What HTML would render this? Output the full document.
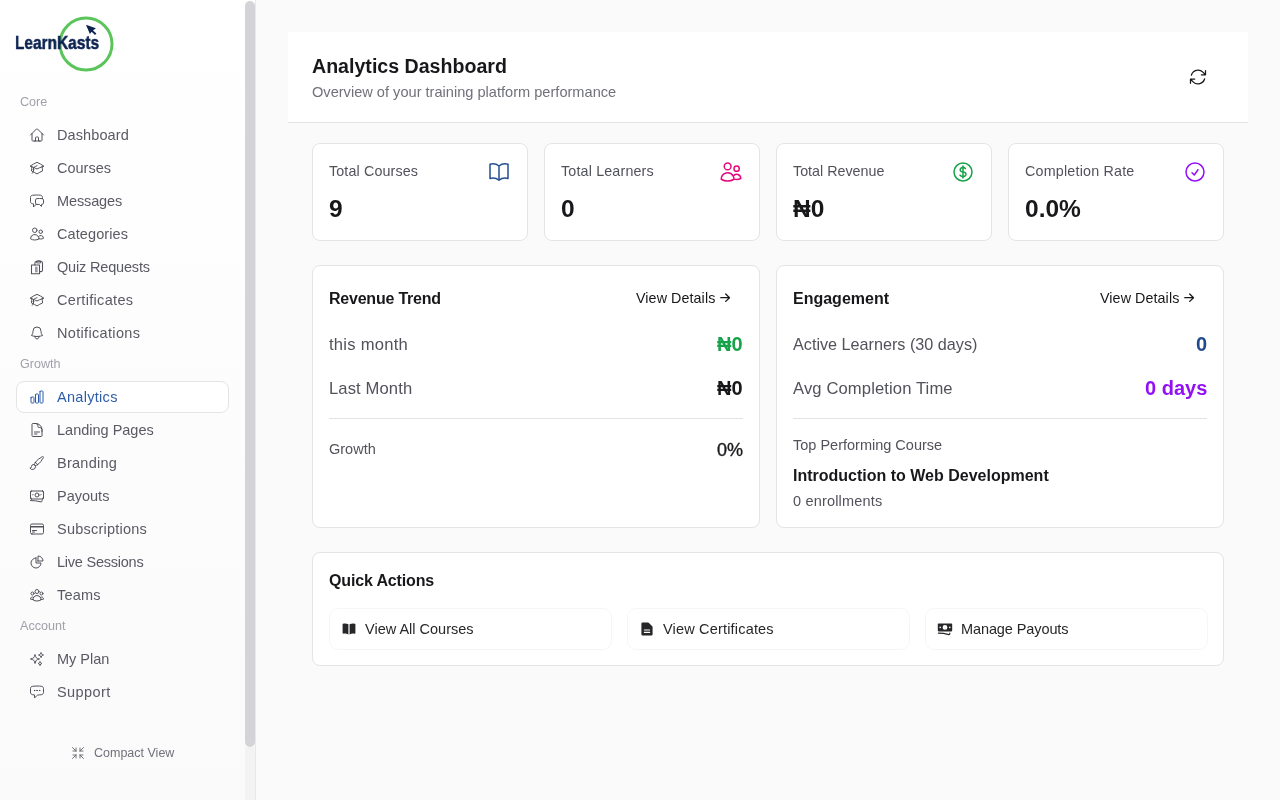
<!DOCTYPE html>
<html><head><meta charset="utf-8">
<style>
*{box-sizing:border-box;margin:0;padding:0}
html,body{width:1280px;height:800px;overflow:hidden;background:#fafafa;font-family:"Liberation Sans",sans-serif;color:#18181b}
.a,.it span,.lbl{will-change:transform}
.a{position:absolute;white-space:nowrap}
svg{display:block}
#side{position:absolute;left:0;top:0;width:256px;height:800px;background:linear-gradient(#fff,#fafafb);border-right:1px solid #e8e8ea}
#thumb{position:absolute;left:245px;top:1px;width:10px;height:746px;border-radius:5px;background:#d4d4d8}
#track{position:absolute;left:245px;top:0;width:10px;height:800px;background:#f3f3f4}
.lbl{position:absolute;left:20px;font-size:12.6px;line-height:16px;color:#a1a1aa}
.it{position:absolute;left:16px;width:213px;height:32px}
.it svg{position:absolute;left:13px;top:8.6px;width:16px;height:16px;fill:none;stroke:#52525b;stroke-width:1.5;stroke-linecap:round;stroke-linejoin:round}
.it span{position:absolute;left:41px;top:6.5px;font-size:14.5px;line-height:20px;color:#5a5a64;white-space:nowrap}
.it.act{background:#fff;border:1px solid #e4e4e7;border-radius:8px}
.it.act svg{left:12px;top:7px;stroke:#2d5da8}
.it.act span{left:40px;top:4.5px;color:#2d5da8}
.card{position:absolute;background:#fff;border:1px solid #e4e4e7;border-radius:8px}
.ic{fill:none;stroke-width:1.5;stroke-linecap:round;stroke-linejoin:round}
</style></head><body>
<div id="side">
  <!-- logo -->
  <svg class="a" style="left:0;top:0" width="130" height="80" viewBox="0 0 130 80">
    <circle cx="86" cy="44" r="26" fill="none" stroke="#5bc55b" stroke-width="3"/>
    <path d="M86 24.8 L95.9 28.3 L93 30.5 L96.4 33.5 L95 34.9 L91.7 31.8 L89.9 34.1 Z" fill="#0c2350"/>
  </svg>
  <div class="a" style="left:14.6px;top:32px;font-size:18.6px;line-height:22px;font-weight:bold;color:#0c2350;-webkit-text-stroke:0.5px #0c2350;transform:scaleX(0.83);transform-origin:0 0">LearnKasts</div>

  <div class="lbl" style="top:94px">Core</div>
  <div class="it" style="top:118px"><svg viewBox="0 0 24 24"><path d="m2.25 12 8.954-8.955c.44-.439 1.152-.439 1.591 0L21.750 12M4.5 9.75v10.125c0 .621.504 1.125 1.125 1.125H9.75v-4.875c0-.621.504-1.125 1.125-1.125h2.25c.621 0 1.125.504 1.125 1.125V21h4.125c.621 0 1.125-.504 1.125-1.125V9.75M8.25 21h8.25"/></svg><span style="letter-spacing:0.1px">Dashboard</span></div>
  <div class="it" style="top:151px"><svg viewBox="0 0 24 24"><path d="M4.26 10.147a60.438 60.438 0 0 0-.491 6.347A48.62 48.62 0 0 1 12 20.904a48.62 48.62 0 0 1 8.232-4.41 60.46 60.46 0 0 0-.491-6.347m-15.482 0a50.636 50.636 0 0 0-2.658-.813A59.906 59.906 0 0 1 12 3.493a59.903 59.903 0 0 1 10.399 5.84c-.896.248-1.783.52-2.658.814m-15.482 0A50.717 50.717 0 0 1 12 13.489a50.702 50.702 0 0 1 7.740-3.342M6.75 15a.75.75 0 1 0 0-1.5.75.75 0 0 0 0 1.5Zm0 0v-3.675A55.378 55.378 0 0 1 12 8.443m-7.007 11.55A5.981 5.981 0 0 0 6.75 15.75v-1.5"/></svg><span>Courses</span></div>
  <div class="it" style="top:184px"><svg viewBox="0 0 24 24"><path d="M20.25 8.511c.884.284 1.5 1.128 1.5 2.097v4.286c0 1.136-.847 2.1-1.98 2.193-.34.027-.68.052-1.02.072v3.091l-3-3c-1.354 0-2.694-.055-4.020-.163a2.115 2.115 0 0 1-.825-.242m9.345-8.334a2.126 2.126 0 0 0-.476-.095 48.64 48.64 0 0 0-8.048 0c-1.131.094-1.976 1.057-1.976 2.192v4.286c0 .837.46 1.580 1.155 1.951m9.345-8.334V6.637c0-1.621-1.152-3.026-2.760-3.235A48.455 48.455 0 0 0 11.25 3c-2.115 0-4.198.137-6.240.402-1.608.209-2.760 1.614-2.760 3.235v6.226c0 1.621 1.152 3.026 2.760 3.235.577.075 1.157.14 1.740.194V21l4.155-4.155"/></svg><span style="letter-spacing:-0.12px">Messages</span></div>
  <div class="it" style="top:217px"><svg viewBox="0 0 24 24"><path d="M15 19.128a9.38 9.38 0 0 0 2.625.372 9.337 9.337 0 0 0 4.121-.952 4.125 4.125 0 0 0-7.533-2.493M15 19.128v-.003c0-1.113-.285-2.16-.786-3.07M15 19.128v.106A12.318 12.318 0 0 1 8.624 21c-2.331 0-4.512-.645-6.374-1.766l-.001-.109a6.375 6.375 0 0 1 11.964-3.070M12 6.375a3.375 3.375 0 1 1-6.75 0 3.375 3.375 0 0 1 6.75 0Zm8.25 2.25a2.625 2.625 0 1 1-5.25 0 2.625 2.625 0 0 1 5.25 0Z"/></svg><span style="letter-spacing:0.1px">Categories</span></div>
  <div class="it" style="top:250px"><svg viewBox="0 0 16 16" style="stroke-width:1.05"><path d="M2.5 6H10.5V14.7H2.5Z"/><path d="M5.9 6V4.1Q5.9 2.3 7.6 2.2H11.8Q13.5 2.3 13.5 4V11.3Q13.5 12.6 12.2 12.6H10.9"/><ellipse cx="9.7" cy="2.9" rx="2.3" ry="1.1"/><rect x="6" y="7.7" width="2.6" height="5.6" fill="#9a9aa2" stroke="none"/></svg><span style="letter-spacing:-0.17px">Quiz Requests</span></div>
  <div class="it" style="top:283px"><svg viewBox="0 0 24 24"><path d="M4.26 10.147a60.438 60.438 0 0 0-.491 6.347A48.62 48.62 0 0 1 12 20.904a48.62 48.62 0 0 1 8.232-4.41 60.46 60.46 0 0 0-.491-6.347m-15.482 0a50.636 50.636 0 0 0-2.658-.813A59.906 59.906 0 0 1 12 3.493a59.903 59.903 0 0 1 10.399 5.84c-.896.248-1.783.52-2.658.814m-15.482 0A50.717 50.717 0 0 1 12 13.489a50.702 50.702 0 0 1 7.740-3.342M6.75 15a.75.75 0 1 0 0-1.5.75.75 0 0 0 0 1.5Zm0 0v-3.675A55.378 55.378 0 0 1 12 8.443m-7.007 11.55A5.981 5.981 0 0 0 6.75 15.75v-1.5"/></svg><span style="letter-spacing:0.32px">Certificates</span></div>
  <div class="it" style="top:316px"><svg viewBox="0 0 24 24"><path d="M14.857 17.082a23.848 23.848 0 0 0 5.454-1.310A8.967 8.967 0 0 1 18 9.75V9A6 6 0 0 0 6 9v.75a8.967 8.967 0 0 1-2.312 6.022c1.733.64 3.56 1.085 5.455 1.310m5.714 0a24.255 24.255 0 0 1-5.714 0m5.714 0a3 3 0 1 1-5.714 0"/></svg><span style="letter-spacing:0.33px">Notifications</span></div>

  <div class="lbl" style="top:356px">Growth</div>
  <div class="it act" style="top:381px"><svg viewBox="0 0 24 24"><path d="M3 13.125C3 12.504 3.504 12 4.125 12h2.25c.621 0 1.125.504 1.125 1.125v6.75C7.5 20.496 6.996 21 6.375 21h-2.25A1.125 1.125 0 0 1 3 19.875v-6.75ZM9.75 8.625c0-.621.504-1.125 1.125-1.125h2.25c.621 0 1.125.504 1.125 1.125v11.25c0 .621-.504 1.125-1.125 1.125h-2.25a1.125 1.125 0 0 1-1.125-1.125V8.625ZM16.5 4.125c0-.621.504-1.125 1.125-1.125h2.25C20.496 3 21 3.504 21 4.125v15.75c0 .621-.504 1.125-1.125 1.125h-2.25a1.125 1.125 0 0 1-1.125-1.125V4.125Z"/></svg><span style="letter-spacing:0.3px">Analytics</span></div>
  <div class="it" style="top:413px"><svg viewBox="0 0 24 24"><path d="M19.5 14.25v-2.625a3.375 3.375 0 0 0-3.375-3.375h-1.5A1.125 1.125 0 0 1 13.5 7.125v-1.5a3.375 3.375 0 0 0-3.375-3.375H8.25m0 12.75h7.5m-7.5 3H12M10.5 2.25H5.625c-.621 0-1.125.504-1.125 1.125v17.25c0 .621.504 1.125 1.125 1.125h12.75c.621 0 1.125-.504 1.125-1.125V11.25a9 9 0 0 0-9-9Z"/></svg><span>Landing Pages</span></div>
  <div class="it" style="top:446px"><svg viewBox="0 0 24 24"><path d="M9.53 16.122a3 3 0 0 0-5.78 1.128 2.25 2.25 0 0 1-2.4 2.245 4.5 4.5 0 0 0 8.4-2.245c0-.399-.078-.78-.22-1.128Zm0 0a15.998 15.998 0 0 0 3.388-1.62m-5.043-.025a15.994 15.994 0 0 1 1.622-3.395m3.420 3.420a15.995 15.995 0 0 0 4.764-4.648l3.876-5.814a1.151 1.151 0 0 0-1.597-1.597L14.146 6.32a15.996 15.996 0 0 0-4.649 4.763m3.420 3.420a6.776 6.776 0 0 0-3.420-3.420"/></svg><span style="letter-spacing:0.25px">Branding</span></div>
  <div class="it" style="top:479px"><svg viewBox="0 0 24 24"><path d="M2.25 18.75a60.07 60.07 0 0 1 15.797 2.101c.727.198 1.453-.342 1.453-1.096V18.75M3.75 4.5v.75A.75.75 0 0 1 3 6h-.75m0 0v-.375c0-.621.504-1.125 1.125-1.125H20.25M2.25 6v9m18-10.5v.75c0 .414.336.75.75.75h.75m-1.5-1.5h.375c.621 0 1.125.504 1.125 1.125v9.75c0 .621-.504 1.125-1.125 1.125h-.375m1.5-1.5H21a.75.75 0 0 0-.75.75v.75m0 0H3.750m0 0h-.375a1.125 1.125 0 0 1-1.125-1.125V15m1.5 1.5v-.75A.75.75 0 0 0 3 15h-.75M15 10.5a3 3 0 1 1-6 0 3 3 0 0 1 6 0Zm3 0h.008v.008H18V10.5Zm-12 0h.008v.008H6V10.5Z"/></svg><span>Payouts</span></div>
  <div class="it" style="top:512px"><svg viewBox="0 0 24 24"><path d="M2.25 8.25h19.5M2.25 9h19.5m-16.5 5.25h6m-6 2.25h3m-3.75 3h15a2.25 2.25 0 0 0 2.25-2.25V6.75A2.25 2.25 0 0 0 19.5 4.5h-15a2.25 2.25 0 0 0-2.25 2.25v10.5A2.25 2.25 0 0 0 4.5 19.5Z"/></svg><span style="letter-spacing:0.23px">Subscriptions</span></div>
  <div class="it" style="top:545px"><svg viewBox="0 0 24 24"><path d="M10.5 6a7.5 7.5 0 1 0 7.5 7.5h-7.5V6Z"/><path d="M13.5 10.5H21A7.5 7.5 0 0 0 13.5 3v7.5Z"/></svg><span style="letter-spacing:-0.23px">Live Sessions</span></div>
  <div class="it" style="top:578px"><svg viewBox="0 0 24 24"><path d="M18 18.72a9.094 9.094 0 0 0 3.741-.479 3 3 0 0 0-4.682-2.720m.94 3.198.001.031c0 .225-.012.447-.037.666A11.944 11.944 0 0 1 12 21c-2.170 0-4.207-.576-5.963-1.584A6.062 6.062 0 0 1 6 18.719m12 0a5.971 5.971 0 0 0-.941-3.197m0 0A5.995 5.995 0 0 0 12 12.75a5.995 5.995 0 0 0-5.058 2.772m0 0a3 3 0 0 0-4.681 2.720 8.986 8.986 0 0 0 3.740.477m.94-3.197a5.971 5.971 0 0 0-.94 3.197M15 6.75a3 3 0 1 1-6 0 3 3 0 0 1 6 0Zm6 3a2.25 2.25 0 1 1-4.5 0 2.25 2.25 0 0 1 4.5 0Zm-13.5 0a2.25 2.25 0 1 1-4.5 0 2.25 2.25 0 0 1 4.5 0Z"/></svg><span style="letter-spacing:0.2px">Teams</span></div>

  <div class="lbl" style="top:618px">Account</div>
  <div class="it" style="top:642px"><svg viewBox="0 0 24 24"><path d="M9.813 15.904 9 18.75l-.813-2.846a4.5 4.5 0 0 0-3.090-3.090L2.25 12l2.846-.813a4.5 4.5 0 0 0 3.090-3.090L9 5.25l.813 2.846a4.5 4.5 0 0 0 3.090 3.090L15.75 12l-2.846.813a4.5 4.5 0 0 0-3.090 3.090ZM18.259 8.715 18 9.75l-.259-1.035a3.375 3.375 0 0 0-2.455-2.456L14.25 6l1.036-.259a3.375 3.375 0 0 0 2.455-2.456L18 2.25l.259 1.035a3.375 3.375 0 0 0 2.456 2.456L21.75 6l-1.035.259a3.375 3.375 0 0 0-2.456 2.456ZM16.894 20.567 16.5 21.75l-.394-1.183a2.25 2.25 0 0 0-1.423-1.423L13.5 18.75l1.183-.394a2.25 2.25 0 0 0 1.423-1.423l.394-1.183.394 1.183a2.25 2.25 0 0 0 1.423 1.423l1.183.394-1.183.394a2.25 2.25 0 0 0-1.423 1.423Z"/></svg><span>My Plan</span></div>
  <div class="it" style="top:675px"><svg viewBox="0 0 24 24"><path d="M8.625 9.75a.375.375 0 1 1-.75 0 .375.375 0 0 1 .75 0Zm0 0H8.25m4.125 0a.375.375 0 1 1-.75 0 .375.375 0 0 1 .75 0Zm0 0H12m4.125 0a.375.375 0 1 1-.75 0 .375.375 0 0 1 .75 0Zm0 0h-.375m-13.5 3.010c0 1.6 1.123 2.994 2.707 3.227 1.087.16 2.185.283 3.293.369V21l4.184-4.183a1.14 1.14 0 0 1 .778-.332 48.294 48.294 0 0 0 5.830-.498c1.585-.233 2.708-1.626 2.708-3.228V6.741c0-1.602-1.123-2.995-2.707-3.228A48.394 48.394 0 0 0 12 3c-2.392 0-4.744.175-7.043.513C3.373 3.746 2.25 5.14 2.25 6.741v6.018Z"/></svg><span style="letter-spacing:0.4px">Support</span></div>

  <div id="track" style="top:747px;height:53px"></div>
  <div id="thumb"></div>

  <div class="a" style="left:70px;top:745px"><svg width="16" height="16" viewBox="0 0 24 24" class="ic" stroke="#71717a"><path d="M9 9V4.5M9 9H4.5M9 9 3.75 3.75M9 15v4.5M9 15H4.5M9 15l-5.25 5.25M15 9h4.5M15 9V4.5M15 9l5.25-5.25M15 15h4.5M15 15v4.5m0-4.5 5.25 5.25"/></svg></div>
  <div class="a" style="left:94px;top:744px;font-size:12.5px;line-height:18px;color:#71717a">Compact View</div>
</div>

<!-- header -->
<div class="a" style="left:288px;top:32px;width:960px;height:91px;background:#fff;border-bottom:1px solid #e4e4e7"></div>
<div class="a" style="left:312px;top:52px;font-size:19.6px;line-height:28px;font-weight:bold;color:#18181b">Analytics Dashboard</div>
<div class="a" style="left:312px;top:82px;font-size:14.6px;line-height:20px;color:#71717a">Overview of your training platform performance</div>
<div class="a" style="left:1188px;top:67px"><svg width="20" height="20" viewBox="0 0 24 24" class="ic" stroke="#18181b"><path d="M16.023 9.348h4.992v-.001M2.985 19.644v-4.992m0 0h4.992m-4.993 0 3.181 3.183a8.25 8.25 0 0 0 13.803-3.7M4.031 9.865a8.25 8.25 0 0 1 13.803-3.7l3.181 3.182m0-4.991v4.99"/></svg></div>

<!-- stat cards -->
<div class="card" style="left:312px;top:143px;width:216px;height:98px"></div>
<div class="card" style="left:544px;top:143px;width:216px;height:98px"></div>
<div class="card" style="left:776px;top:143px;width:216px;height:98px"></div>
<div class="card" style="left:1008px;top:143px;width:216px;height:98px"></div>

<div class="a" style="left:329px;top:161px;font-size:14.3px;line-height:20px;color:#52525b;letter-spacing:0.13px">Total Courses</div>
<div class="a" style="left:561px;top:161px;font-size:14.3px;line-height:20px;color:#52525b;letter-spacing:0.16px">Total Learners</div>
<div class="a" style="left:793px;top:161px;font-size:14.3px;line-height:20px;color:#52525b">Total Revenue</div>
<div class="a" style="left:1025px;top:161px;font-size:14.3px;line-height:20px;color:#52525b;letter-spacing:0.2px">Completion Rate</div>

<div class="a" style="left:329px;top:193px;font-size:24.5px;line-height:32px;font-weight:bold">9</div>
<div class="a" style="left:561px;top:193px;font-size:24.5px;line-height:32px;font-weight:bold">0</div>
<div class="a" style="left:793px;top:193px;font-size:24.5px;line-height:32px;font-weight:bold">₦0</div>
<div class="a" style="left:1025px;top:193px;font-size:24.5px;line-height:32px;font-weight:bold">0.0%</div>

<div class="a" style="left:487px;top:160px"><svg width="24" height="24" viewBox="0 0 24 24" class="ic" stroke="#25508f"><path d="M12 6.042A8.967 8.967 0 0 0 6 3.75c-1.052 0-2.062.18-3 .512v14.25A8.987 8.987 0 0 1 6 18c2.305 0 4.408.867 6 2.292m0-14.25a8.966 8.966 0 0 1 6-2.292c1.052 0 2.062.18 3 .512v14.25A8.987 8.987 0 0 0 18 18a8.967 8.967 0 0 0-6 2.292m0-14.25v14.25"/></svg></div>
<div class="a" style="left:719px;top:160px"><svg width="24" height="24" viewBox="0 0 24 24" class="ic" stroke="#e3097c"><path d="M15 19.128a9.38 9.38 0 0 0 2.625.372 9.337 9.337 0 0 0 4.121-.952 4.125 4.125 0 0 0-7.533-2.493M15 19.128v-.003c0-1.113-.285-2.16-.786-3.07M15 19.128v.106A12.318 12.318 0 0 1 8.624 21c-2.331 0-4.512-.645-6.374-1.766l-.001-.109a6.375 6.375 0 0 1 11.964-3.070M12 6.375a3.375 3.375 0 1 1-6.75 0 3.375 3.375 0 0 1 6.75 0Zm8.25 2.25a2.625 2.625 0 1 1-5.25 0 2.625 2.625 0 0 1 5.25 0Z"/></svg></div>
<div class="a" style="left:951px;top:160px"><svg width="24" height="24" viewBox="0 0 24 24" class="ic" stroke="#16a34a"><path d="M12 6v12m-3-2.818.879.659c1.171.879 3.070.879 4.242 0 1.172-.879 1.172-2.303 0-3.182C13.536 12.219 12.768 12 12 12c-.725 0-1.450-.22-2.003-.659-1.106-.879-1.106-2.303 0-3.182s2.9-.879 4.006 0l.415.33M21 12a9 9 0 1 1-18 0 9 9 0 0 1 18 0Z"/></svg></div>
<div class="a" style="left:1183px;top:160px"><svg width="24" height="24" viewBox="0 0 24 24" class="ic" stroke="#9310f5"><path d="M9 12.75 11.25 15 15 9.75M21 12a9 9 0 1 1-18 0 9 9 0 0 1 18 0Z"/></svg></div>

<!-- revenue / engagement cards -->
<div class="card" style="left:312px;top:265px;width:448px;height:263px"></div>
<div class="card" style="left:776px;top:265px;width:448px;height:263px"></div>

<div class="a" style="left:329px;top:287px;font-size:16px;line-height:24px;font-weight:bold;letter-spacing:-0.22px">Revenue Trend</div>
<div class="a" style="left:636px;top:288px;font-size:14.3px;line-height:20px;color:#18181b;letter-spacing:0.08px">View Details<svg style="position:absolute;left:83.5px;top:5px" width="12" height="10" viewBox="0 0 12 10" fill="none" stroke="#18181b" stroke-width="1.3" stroke-linecap="round" stroke-linejoin="round"><path d="M0.8 4.7H9.5M5.7 1 9.5 4.7 5.7 8.4"/></svg></div>
<div class="a" style="left:329px;top:333px;font-size:16.6px;line-height:24px;color:#52525b;letter-spacing:0.25px">this month</div>
<div class="a" style="right:537px;top:330px;font-size:20px;line-height:28px;font-weight:bold;color:#16a34a">₦0</div>
<div class="a" style="left:329px;top:377px;font-size:16.6px;line-height:24px;color:#52525b;letter-spacing:0.12px">Last Month</div>
<div class="a" style="right:537px;top:374px;font-size:20px;line-height:28px;font-weight:bold;color:#18181b">₦0</div>
<div class="a" style="left:329px;top:418px;width:414px;height:1px;background:#e4e4e7"></div>
<div class="a" style="left:329px;top:439px;font-size:14.5px;line-height:20px;color:#52525b">Growth</div>
<div class="a" style="right:537px;top:436px;font-size:18px;line-height:28px;color:#18181b;-webkit-text-stroke:0.35px #18181b">0%</div>

<div class="a" style="left:793px;top:287px;font-size:16px;line-height:24px;font-weight:bold">Engagement</div>
<div class="a" style="left:1100px;top:288px;font-size:14.3px;line-height:20px;color:#18181b;letter-spacing:0.08px">View Details<svg style="position:absolute;left:83.5px;top:5px" width="12" height="10" viewBox="0 0 12 10" fill="none" stroke="#18181b" stroke-width="1.3" stroke-linecap="round" stroke-linejoin="round"><path d="M0.8 4.7H9.5M5.7 1 9.5 4.7 5.7 8.4"/></svg></div>
<div class="a" style="left:793px;top:332px;font-size:16.2px;line-height:24px;color:#52525b">Active Learners (30 days)</div>
<div class="a" style="right:73px;top:330px;font-size:20px;line-height:28px;font-weight:bold;color:#1e4b8f">0</div>
<div class="a" style="left:793px;top:377px;font-size:16.6px;line-height:24px;color:#52525b;letter-spacing:0.12px">Avg Completion Time</div>
<div class="a" style="right:73px;top:374px;font-size:20px;line-height:28px;font-weight:bold;color:#9310f5">0 days</div>
<div class="a" style="left:793px;top:418px;width:414px;height:1px;background:#e4e4e7"></div>
<div class="a" style="left:793px;top:435px;font-size:14.5px;line-height:20px;color:#52525b">Top Performing Course</div>
<div class="a" style="left:793px;top:464px;font-size:16px;line-height:24px;font-weight:bold">Introduction to Web Development</div>
<div class="a" style="left:793px;top:491px;font-size:14.5px;line-height:20px;color:#52525b;letter-spacing:0.18px">0 enrollments</div>

<!-- quick actions -->
<div class="card" style="left:312px;top:552px;width:912px;height:114px"></div>
<div class="a" style="left:329px;top:569px;font-size:16px;line-height:24px;font-weight:bold;letter-spacing:-0.15px">Quick Actions</div>
<div class="a" style="left:329px;top:608px;width:283px;height:42px;border:1px solid #f6f6f7;border-radius:9px;background:#fff"></div>
<div class="a" style="left:627px;top:608px;width:283px;height:42px;border:1px solid #f6f6f7;border-radius:9px;background:#fff"></div>
<div class="a" style="left:925px;top:608px;width:283px;height:42px;border:1px solid #f6f6f7;border-radius:9px;background:#fff"></div>

<div class="a" style="left:341px;top:621px"><svg width="16" height="16" viewBox="0 0 20 20" fill="#27272a"><path d="M10.75 16.82A7.462 7.462 0 0 1 15 15.5c.71 0 1.396.098 2.046.282A.75.75 0 0 0 18 15.06v-11a.75.75 0 0 0-.546-.721A9.006 9.006 0 0 0 15 3a8.963 8.963 0 0 0-4.250 1.065V16.82ZM9.25 4.065A8.963 8.963 0 0 0 5 3c-.85 0-1.673.118-2.454.339A.75.75 0 0 0 2 4.06v11a.75.75 0 0 0 .954.721A7.506 7.506 0 0 1 5 15.5c1.579 0 3.042.487 4.25 1.32V4.065Z"/></svg></div>
<div class="a" style="left:365px;top:619px;font-size:14.5px;line-height:20px;color:#27272a">View All Courses</div>
<div class="a" style="left:639px;top:621px"><svg width="16" height="16" viewBox="0 0 20 20" fill="#27272a"><path fill-rule="evenodd" d="M4.5 2A1.5 1.5 0 0 0 3 3.5v13A1.5 1.5 0 0 0 4.5 18h11a1.5 1.5 0 0 0 1.5-1.5V7.621a1.5 1.5 0 0 0-.44-1.060l-4.12-4.122A1.5 1.5 0 0 0 11.378 2H4.5Zm2.25 8.5a.75.75 0 0 0 0 1.5h6.5a.75.75 0 0 0 0-1.5h-6.5Zm0 3a.75.75 0 0 0 0 1.5h6.5a.75.75 0 0 0 0-1.5h-6.5Z" clip-rule="evenodd"/></svg></div>
<div class="a" style="left:663px;top:619px;font-size:14.5px;line-height:20px;color:#27272a;letter-spacing:0.18px">View Certificates</div>
<div class="a" style="left:937px;top:621px"><svg width="16" height="16" viewBox="0 0 20 20" fill="#27272a"><path fill-rule="evenodd" d="M1 4a1 1 0 0 1 1-1h16a1 1 0 0 1 1 1v8a1 1 0 0 1-1 1H2a1 1 0 0 1-1-1V4Zm12 4a3 3 0 1 1-6 0 3 3 0 0 1 6 0ZM4 9a1 1 0 1 0 0-2 1 1 0 0 0 0 2Zm13-1a1 1 0 1 1-2 0 1 1 0 0 1 2 0ZM1.75 14.5a.75.75 0 0 0 0 1.5c4.417 0 8.693.603 12.749 1.73 1.111.309 2.251-.512 2.251-1.696v-.784a.75.75 0 0 0-1.5 0v.784a.272.272 0 0 1-.35.25A49.043 49.043 0 0 0 1.75 14.5Z" clip-rule="evenodd"/></svg></div>
<div class="a" style="left:961px;top:619px;font-size:14.5px;line-height:20px;color:#27272a;letter-spacing:-0.1px">Manage Payouts</div>
</body></html>
